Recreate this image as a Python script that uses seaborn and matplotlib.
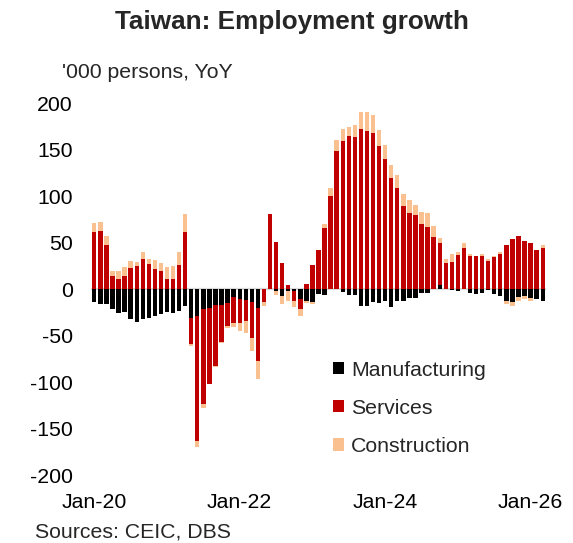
import numpy as np
import pandas as pd
import matplotlib
matplotlib.use("Agg")
import matplotlib.pyplot as plt
from matplotlib.patches import Patch
import seaborn as sns

# Monthly YoY change in employed persons ('000), Jan-2020 onwards
months = pd.date_range("2020-01-01", periods=75, freq="MS")

manufacturing = [
    -13.7, -15.8, -16.5, -21.8, -25.4, -24.7, -32.6, -35.5, -32.6, -31.5,
    -29.0, -26.5, -24.4, -26.0, -23.3, -18.3, -30.8, -29.0, -21.5, -20.0,
    -17.2, -17.2, -15.4, -8.6, -10.5, -11.5, -14.3, -20.0, 0.0, 0.0,
    -2.0, -7.8, -2.5, -2.5, -10.5, -12.5, -14.5, -5.7, -6.4, 0.0,
    0.0, -2.9, -6.4, -6.4, -18.0, -18.0, -14.0, -15.0, -12.5, -19.5,
    -12.5, -12.5, -9.5, -9.5, -4.7, -4.7, 0.0, 4.5, 0.0, -1.5,
    -2.5, 0.0, -4.5, -5.5, -4.5, -1.5, -5.0, -7.0, -13.0, -14.0,
    -8.5, -7.5, -9.5, -11.0, -13.0,
]

services = [
    61.6, 62.4, 47.3, 14.0, 11.0, 14.0, 22.2, 24.4, 32.2, 27.2,
    21.2, 19.4, 11.0, 11.0, 26.0, 61.3, -28.6, -134.0, -101.8, -81.7,
    -65.6, -40.1, -24.1, -27.6, -26.5, -22.6, -37.9, -57.3, -13.5, 80.3,
    50.5, 28.0, 4.5, -10.0, -11.0, 5.0, 25.4, 42.3, 66.0, 100.4,
    148.0, 158.7, 164.8, 163.0, 172.0, 170.2, 167.3, 153.3, 139.8, 119.0,
    108.6, 89.6, 81.7, 79.6, 69.9, 67.0, 55.5, 45.5, 28.0, 29.4,
    36.6, 44.4, 35.5, 35.5, 35.5, 30.5, 34.0, 37.3, 47.3, 53.4,
    57.0, 51.6, 49.1, 41.9, 44.4,
]

construction = [
    9.0, 9.7, 10.0, 5.4, 8.2, 9.3, 8.2, 5.0, 7.5, 5.0,
    10.0, 8.6, 12.2, 14.0, 13.6, 19.7, -1.8, -7.0, -4.3, -0.5,
    -0.7, -0.7, -2.2, -4.3, -8.2, -13.3, -14.7, -19.0, -4.5, 0.0,
    -4.0, -8.8, -10.0, -6.5, -8.0, -3.0, -1.5, 0.0, 4.3, 8.2,
    11.8, 13.3, 9.0, 12.9, 17.9, 19.7, 19.7, 17.9, 15.4, 14.0,
    14.3, 12.5, 14.3, 11.1, 12.9, 14.3, 12.3, 4.5, 4.5, 8.2,
    3.6, 4.7, 2.5, 0.0, 2.2, 1.8, 1.4, 2.2, -3.6, -4.3,
    -4.3, -3.6, -3.9, 0.0, 2.9,
]

sectors = ["Manufacturing", "Services", "Construction"]
colors = ["#000000", "#C00000", "#FAC090"]
y_ticks = [-200, -150, -100, -50, 0, 50, 100, 150, 200]

sns.set_theme(style="white")
plt.rcParams["font.family"] = ["Liberation Sans", "DejaVu Sans"]

df = pd.DataFrame({
    "month": months,
    "Manufacturing": manufacturing,
    "Services": services,
    "Construction": construction,
})

fig = plt.figure(figsize=(5.73, 5.43), dpi=100)
ax = fig.add_axes([0.1593, 0.1252, 0.7931, 0.6851])

x = np.arange(len(df))
pos_base = np.zeros(len(df))
neg_base = np.zeros(len(df))

ax.axhline(0, color="#D9D9D9", lw=1.6, zorder=1)

# diverging stack: positives build upward, negatives downward
for name, col in zip(sectors, colors):
    vals = df[name].to_numpy()
    base = np.where(vals >= 0, pos_base, neg_base)
    ax.bar(x, vals, bottom=base, width=0.72, color=col,
           edgecolor="none", linewidth=0, zorder=2)
    pos_base = pos_base + np.clip(vals, 0, None)
    neg_base = neg_base + np.clip(vals, None, 0)

ax.set_xlim(-0.5, len(df) - 0.5)
ax.set_ylim(-200, 200)
ax.set_yticks(y_ticks)
ax.set_yticklabels([str(v) for v in y_ticks])

tick_idx = np.arange(0, len(df), 24)
ax.set_xticks(tick_idx)
ax.set_xticklabels([df["month"].iloc[i].strftime("%b-%y") for i in tick_idx])

ax.tick_params(axis="both", length=0, labelsize=15.3, colors="black")
ax.tick_params(axis="y", pad=13.5)
ax.tick_params(axis="x", pad=13)
sns.despine(ax=ax, left=True, bottom=True)
ax.grid(False)

handles = [Patch(facecolor=c, edgecolor="none") for c in colors]
leg = ax.legend(handles, sectors, loc="upper left",
                bbox_to_anchor=(0.513, 0.33), frameon=False,
                fontsize=15.3, handlelength=0.5, handleheight=0.5,
                handletextpad=0.35, labelspacing=0.9, borderaxespad=0)

fig.text(0.51, 0.9595, "Taiwan: Employment growth", ha="center", va="center",
         fontsize=18.8, fontweight="bold")
fig.text(0.108, 0.8674, "'000 persons, YoY", ha="left", va="center",
         fontsize=15.3)
fig.text(0.061, 0.0208, "Sources: CEIC, DBS", ha="left", va="center",
         fontsize=15.3)

fig.savefig("out.png", dpi=100, facecolor="white")
